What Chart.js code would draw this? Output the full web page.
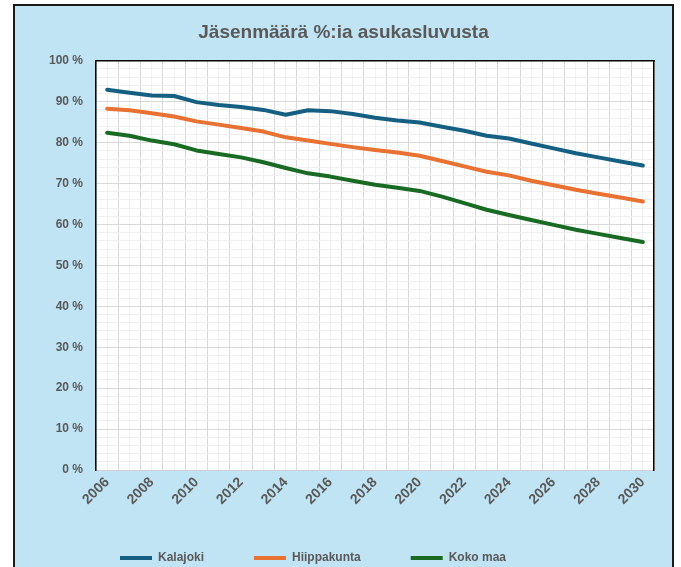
<!DOCTYPE html>
<html><head><meta charset="utf-8">
<script src="https://cdn.jsdelivr.net/npm/chart.js@4/dist/chart.umd.min.js"></script>
<style>
html,body{margin:0;padding:0;background:#fff;width:681px;height:567px;overflow:hidden;}
#frame{position:absolute;left:13px;top:4px;width:657px;height:600px;border:2px solid #1b1b1b;background:#C1E4F5;overflow:hidden;}
#c{display:block;}
</style></head><body>
<div id="frame"><canvas id="c" width="657" height="561"></canvas></div>
<script>
const years = [2006,2007,2008,2009,2010,2011,2012,2013,2014,2015,2016,2017,2018,2019,2020,2021,2022,2023,2024,2025,2026,2027,2028,2029,2030];
const kalajoki    = [92.9,92.2,91.5,91.4,89.9,89.2,88.7,88.0,86.8,87.9,87.7,87.0,86.1,85.4,84.9,83.9,82.9,81.7,81.0,79.8,78.6,77.4,76.4,75.4,74.4];
const hiippakunta = [88.3,87.9,87.2,86.4,85.2,84.4,83.6,82.7,81.3,80.5,79.7,78.9,78.2,77.6,76.8,75.5,74.2,72.9,72.0,70.7,69.6,68.5,67.5,66.6,65.6];
const kokoMaa     = [82.4,81.7,80.5,79.6,78.1,77.2,76.4,75.2,73.8,72.5,71.7,70.7,69.7,69.0,68.2,66.8,65.2,63.6,62.3,61.1,59.9,58.7,57.7,56.7,55.7];
const seriesNames = ['Kalajoki','Hiippakunta','Koko maa'];
const xTickLabels = ['2006','2008','2010','2012','2014','2016','2018','2020','2022','2024','2026','2028','2030'];
const yTickLabels = ['0 %','10 %','20 %','30 %','40 %','50 %','60 %','70 %','80 %','90 %','100 %'];
const titleText = 'Jäsenmäärä %:ia asukasluvusta';

const FONT = "'Liberation Sans',Arial,sans-serif";
const TXT = '#595959';
const MAJOR = '#D9D9D9', MINOR = '#F0F0F0';
const LEG_PAD = 50;

function pts(arr){ return years.map((y,i)=>({x:y, y:arr[i]})); }
function ds(label, arr, color){
  return {label, data:pts(arr), borderColor:color, backgroundColor:color, borderWidth:4,
    pointRadius:0, tension:0, borderCapStyle:'round', borderJoinStyle:'round'};
}

const plotBg = {
  id:'plotBg',
  beforeDraw(chart){
    const {ctx, chartArea:a} = chart;
    ctx.save(); ctx.fillStyle = '#fff';
    ctx.fillRect(a.left, a.top, a.right-a.left, a.bottom-a.top);
    ctx.restore();
  }
};
const legendPlace = {
  id:'legendPlace',
  afterLayout(chart){
    const lg = chart.legend;
    lg.left = 210 - LEG_PAD - lg.right + lg.lineWidths[0];
    lg.top = 557 - LEG_PAD - 11;
  }
};

new Chart(document.getElementById('c'), {
  type:'line',
  data:{datasets:[
    ds(seriesNames[0], kalajoki, '#156082'),
    ds(seriesNames[1], hiippakunta, '#E97132'),
    ds(seriesNames[2], kokoMaa, '#196B24')
  ]},
  options:{
    responsive:false, animation:false, devicePixelRatio:1,
    layout:{padding:0},
    plugins:{
      title:{display:true, text:titleText, color:TXT, font:{family:FONT, size:19, weight:'bold'}, padding:{top:15.5, bottom:16.5}},
      legend:{position:'bottom', maxHeight:40,
        labels:{usePointStyle:true, pointStyle:'line', pointStyleWidth:32, boxHeight:4, padding:LEG_PAD,
          color:TXT, font:{family:FONT, size:12, weight:'bold'}}},
      tooltip:{enabled:false}
    },
    scales:{
      x:{type:'linear', min:2005.5, max:2030.5,
        ticks:{stepSize:0.5, autoSkip:false, maxRotation:45, minRotation:45, padding:4, color:TXT,
          font:{family:FONT, size:14, weight:'bold'},
          callback(v){ const s = String(v); return xTickLabels.includes(s) ? s : ''; }},
        grid:{drawTicks:false, lineWidth:1, color(c){ return (c.tick && Number.isInteger(c.tick.value)) ? MINOR : MAJOR; }},
        border:{color:'#D0D0D0', width:1},
        afterFit(s){ s.height = 57; }
      },
      x2:{type:'linear', position:'top', min:2005.5, max:2030.5,
        ticks:{display:false}, grid:{display:false, drawTicks:false},
        border:{color:'#000', width:1.5}, afterFit(s){ s.height = 0; }},
      y:{min:0, max:100,
        ticks:{stepSize:2, autoSkip:false, padding:13, color:TXT, font:{family:FONT, size:12, weight:'bold'},
          callback(v){ return v % 10 === 0 ? yTickLabels[v/10] : ''; }},
        grid:{drawTicks:false, lineWidth:1, color(c){ return (c.tick && c.tick.value % 10 === 0) ? MAJOR : MINOR; }},
        border:{color:'#000', width:1.5},
        afterFit(s){ s.width = 81; }
      },
      y2:{position:'right', min:0, max:100,
        ticks:{display:false}, grid:{display:false, drawTicks:false},
        border:{color:'#000', width:1.5}, afterFit(s){ s.width = 18; }}
    }
  },
  plugins:[plotBg, legendPlace]
});
</script>
</body></html>
